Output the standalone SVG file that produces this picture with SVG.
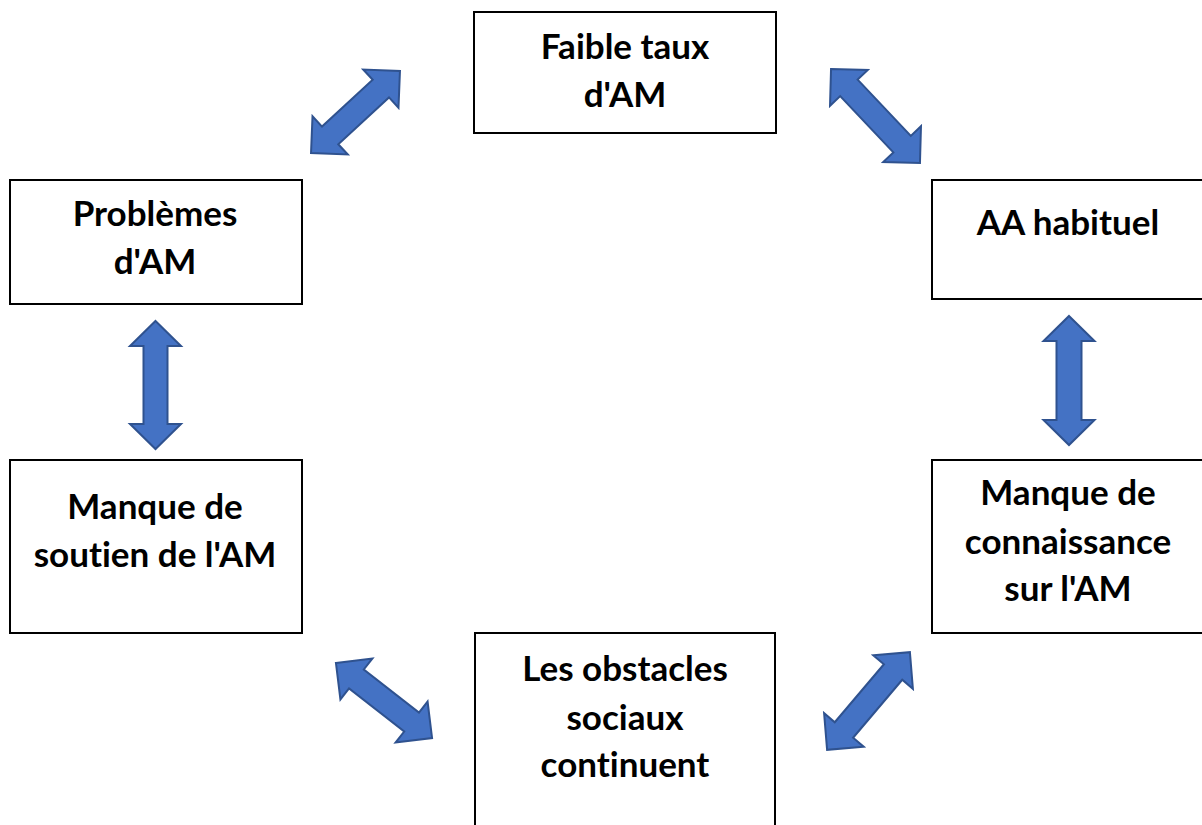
<svg xmlns="http://www.w3.org/2000/svg" width="1202" height="825" viewBox="0 0 1202 825">
<style>
.box{fill:#fff;stroke:#000;stroke-width:2}
.lbl{font-family:Lato,"Liberation Sans",sans-serif;font-weight:bold;font-size:35px;fill:#000;text-anchor:middle;font-variant-ligatures:none}
.arr{fill:#4472C4;stroke:#2F528F;stroke-width:2;stroke-linejoin:miter}
</style>
<rect width="1202" height="825" fill="#fff"/>
<g id="connectors">
<polygon class="arr" transform="translate(355.5,112) rotate(-42.7)" points="-60.5,0 -34.5,-26 -34.5,-12 34.5,-12 34.5,-26 60.5,0 34.5,26 34.5,12 -34.5,12 -34.5,26"/>
<polygon class="arr" transform="translate(875.5,116) rotate(46.6)" points="-64.7,0 -38.7,-26 -38.7,-12 38.7,-12 38.7,-26 64.7,0 38.7,26 38.7,12 -38.7,12 -38.7,26"/>
<polygon class="arr" transform="translate(155.5,385) rotate(90)" points="-64,0 -39,-25.5 -39,-12 39,-12 39,-25.5 64,0 39,25.5 39,12 -39,12 -39,25.5"/>
<polygon class="arr" transform="translate(1069,380.5) rotate(90)" points="-64.5,0 -39.5,-25.5 -39.5,-12.5 39.5,-12.5 39.5,-25.5 64.5,0 39.5,25.5 39.5,12.5 -39.5,12.5 -39.5,25.5"/>
<polygon class="arr" transform="translate(384,700.5) rotate(38)" points="-61,0 -35,-26 -35,-12 35,-12 35,-26 61,0 35,26 35,12 -35,12 -35,26"/>
<polygon class="arr" transform="translate(868.5,701) rotate(-49.7)" points="-64,0 -38,-26 -38,-12 38,-12 38,-26 64,0 38,26 38,12 -38,12 -38,26"/>
</g>
<g id="node-faible">
<rect class="box" x="474" y="12" width="302" height="121"/>
<text class="lbl" x="625" y="59">Faible taux</text>
<text class="lbl" x="625" y="107">d'AM</text>
</g>
<g id="node-problemes">
<rect class="box" x="10" y="180" width="292" height="124"/>
<text class="lbl" x="155" y="226">Problèmes</text>
<text class="lbl" x="155" y="274">d'AM</text>
</g>
<g id="node-aa">
<rect class="box" x="932" y="180" width="272" height="119"/>
<text class="lbl" x="1068" y="235">AA habituel</text>
</g>
<g id="node-soutien">
<rect class="box" x="10" y="460" width="292" height="173"/>
<text class="lbl" x="155" y="519">Manque de</text>
<text class="lbl" x="155" y="567">soutien de l'AM</text>
</g>
<g id="node-connaissance">
<rect class="box" x="932" y="460" width="272" height="173"/>
<text class="lbl" x="1068" y="505">Manque de</text>
<text class="lbl" x="1068" y="554">connaissance</text>
<text class="lbl" x="1068" y="601">sur l'AM</text>
</g>
<g id="node-obstacles">
<rect class="box" x="475" y="633" width="300" height="200"/>
<text class="lbl" x="625" y="681">Les obstacles</text>
<text class="lbl" x="625" y="730">sociaux</text>
<text class="lbl" x="625" y="777">continuent</text>
</g>
</svg>
